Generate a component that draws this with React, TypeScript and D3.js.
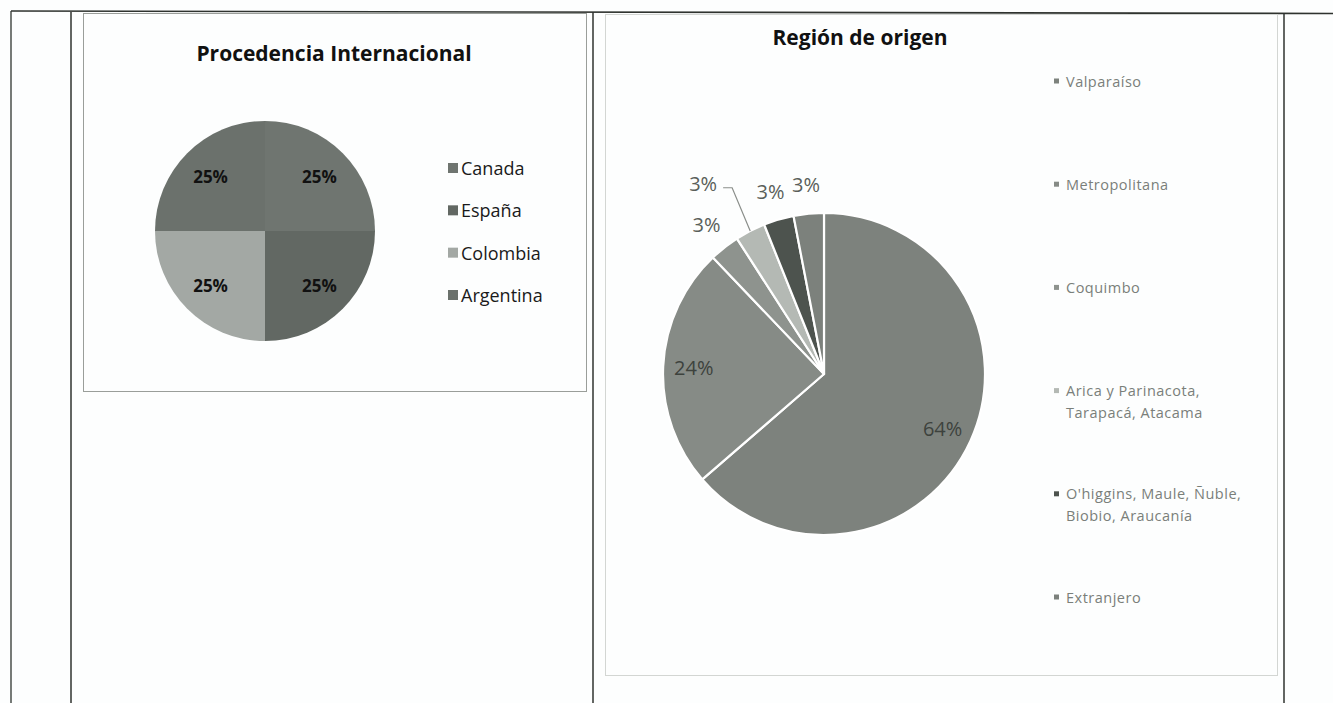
import React from 'react';
import * as d3 from 'd3';

// Procedencia Internacional
const intlCategories = ['Canada', 'España', 'Colombia', 'Argentina'];
const intlValues = [1, 1, 1, 1];
const intlColors = ['#6f7570', '#626863', '#a3a8a4', '#6b716c'];

// Región de origen (counts, 33 in total)
const regionCategories = [
  'Valparaíso',
  'Metropolitana',
  'Coquimbo',
  'Arica y Parinacota, Tarapacá, Atacama',
  "O'higgins, Maule, Ñuble, Biobio, Araucanía",
  'Extranjero',
];
const regionLegendLines = [
  ['Valparaíso'],
  ['Metropolitana'],
  ['Coquimbo'],
  ['Arica y Parinacota,', 'Tarapacá, Atacama'],
  ["O'higgins, Maule, Ñuble,", 'Biobio, Araucanía'],
  ['Extranjero'],
];
const regionValues = [21, 8, 1, 1, 1, 1];
const regionColors = ['#7d827d', '#868b86', '#8e938e', '#b4b9b4', '#4d534e', '#7c817c'];

const FONT = "'Open Sans', 'Liberation Sans', sans-serif";

const App: React.FC = () => {
  const fmt = d3.format('.0%');

  // left pie
  const lc = { x: 265, y: 231 };
  const lr = 110;
  const lPie = d3.pie<number>().sort(null)(intlValues);
  const lTotal = d3.sum(intlValues);
  const lArc = d3.arc<d3.PieArcDatum<number>>().innerRadius(0).outerRadius(lr);
  const lLabelArc = d3.arc<d3.PieArcDatum<number>>().innerRadius(lr * 0.7).outerRadius(lr * 0.7);
  const lLegendY = d3.scalePoint<string>().domain(intlCategories).range([168, 295]);

  // right pie
  const rc = { x: 824, y: 374 };
  const rr = 161;
  const rPie = d3.pie<number>().sort(null)(regionValues);
  const rTotal = d3.sum(regionValues);
  const rArc = d3.arc<d3.PieArcDatum<number>>().innerRadius(0).outerRadius(rr);
  const rInner = d3.arc<d3.PieArcDatum<number>>().innerRadius(rr * 0.81).outerRadius(rr * 0.81);
  const rLegendY = d3.scalePoint<string>().domain(regionCategories).range([81, 597]);

  const outerLabel = (d: d3.PieArcDatum<number>, i: number) => {
    const mid = (d.startAngle + d.endAngle) / 2;
    // Arica label got pushed outward with a leader line
    const moved = i === 3;
    const a = moved ? mid - 0.09 : mid;
    const rad = moved ? rr * 1.4 : rr * 1.18;
    return {
      x: rc.x + rad * Math.sin(a),
      y: rc.y - rad * Math.cos(a),
      ex: rc.x + rr * 1.0 * Math.sin(mid),
      ey: rc.y - rr * 1.0 * Math.cos(mid),
      moved,
    };
  };

  return (
    <div style={{ position: 'absolute', left: 0, top: 0 }}>
      <svg width={1333} height={703} style={{ display: 'block', background: '#fdfefe' }}>
        {/* table grid */}
        <g stroke="#2f332f" fill="none">
          <line x1={11} y1={11} x2={1333} y2={13.5} strokeWidth={1.6} />
          <line x1={11} y1={11} x2={11} y2={703} strokeWidth={1.3} />
          <line x1={71} y1={12} x2={71} y2={703} strokeWidth={1.5} />
          <line x1={593} y1={12} x2={593} y2={703} strokeWidth={1.5} />
          <line x1={1284} y1={13} x2={1284} y2={703} strokeWidth={1.5} />
        </g>
        {/* chart frames */}
        <g stroke="#9a9e9a" fill="none" strokeWidth={1}>
          <rect x={83.5} y={13.5} width={503} height={378} />
          <rect x={605.5} y={14.5} width={672} height={661} stroke="#d3d6d3" />
        </g>

        {/* Procedencia Internacional */}
        <text x={334} y={53} textAnchor="middle" dominantBaseline="central"
          fontFamily={FONT} fontWeight="bold" fontSize={21} fill="#111">
          Procedencia Internacional
        </text>
        <g transform={`translate(${lc.x},${lc.y})`}>
          {lPie.map((d, i) => (
            <path key={i} d={lArc(d) || ''} fill={intlColors[i]} />
          ))}
          {lPie.map((d, i) => {
            const [x, y] = lLabelArc.centroid(d);
            return (
              <text key={i} x={x} y={y} textAnchor="middle" dominantBaseline="central"
                fontFamily={FONT} fontWeight="bold" fontSize={17} fill="#111">
                {fmt(d.data / lTotal)}
              </text>
            );
          })}
        </g>
        {intlCategories.map((c, i) => (
          <g key={c}>
            <rect x={448} y={(lLegendY(c) || 0) - 5} width={10} height={10} fill={intlColors[i]} />
            <text x={461} y={lLegendY(c)} dominantBaseline="central"
              fontFamily={FONT} fontSize={18} fill="#1a1a1a">{c}</text>
          </g>
        ))}

        {/* Región de origen */}
        <text x={860} y={37} textAnchor="middle" dominantBaseline="central"
          fontFamily={FONT} fontWeight="bold" fontSize={21} fill="#111">
          Región de origen
        </text>
        <g>
          {rPie.map((d, i) => (
            <path key={i} d={rArc(d) || ''} transform={`translate(${rc.x},${rc.y})`}
              fill={regionColors[i]} stroke="#fff" strokeWidth={2.2} strokeLinejoin="round" />
          ))}
          {rPie.map((d, i) => {
            const pct = fmt(d.data / rTotal);
            if (i < 2) {
              const [x, y] = rInner.centroid(d);
              return (
                <text key={i} x={rc.x + x} y={rc.y + y} textAnchor="middle" dominantBaseline="central"
                  fontFamily={FONT} fontSize={20} fill="#3d423d">{pct}</text>
              );
            }
            const p = outerLabel(d, i);
            return (
              <g key={i}>
                {p.moved && (
                  <polyline points={`${p.x + 20},${p.y + 4} ${p.x + 29},${p.y + 4} ${p.ex},${p.ey}`}
                    fill="none" stroke="#8a8e8a" strokeWidth={1.2} />
                )}
                <text x={p.x} y={p.y} textAnchor="middle" dominantBaseline="central"
                  fontFamily={FONT} fontSize={20} fill="#5a5f5a">{pct}</text>
              </g>
            );
          })}
        </g>
        {regionCategories.map((c, i) => (
          <g key={c}>
            <rect x={1054} y={(rLegendY(c) || 0) - 2.5} width={5} height={5} fill={regionColors[i]} />
            {regionLegendLines[i].map((ln, j) => (
              <text key={j} x={1066} y={(rLegendY(c) || 0) + j * 22} dominantBaseline="central"
                fontFamily={FONT} fontSize={14.5} letterSpacing={0.5} fill="#7a7f7a">{ln}</text>
            ))}
          </g>
        ))}
      </svg>
    </div>
  );
};

export default App;
